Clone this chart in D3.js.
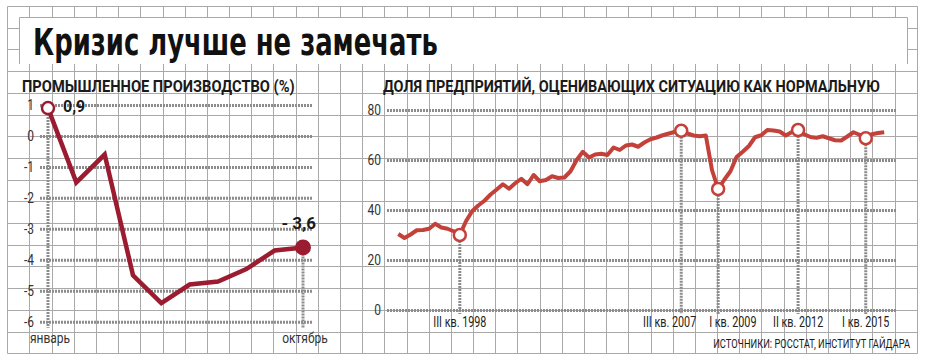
<!DOCTYPE html>
<meta charset="utf-8">
<head>
<style>
  body { margin: 0; background: #fff; }
  text { font-family: "Liberation Sans Narrow", "Roboto", "Liberation Sans", sans-serif; fill: #1a1a1a; }
  .axis .domain { display: none; }
  .axis line { stroke: #8c8c8c; stroke-width: 3; stroke-dasharray: 2,1; }
  .axis text { font-size: 15px; fill: #333; }
</style>
</head>
<body>
<script src="https://d3js.org/d3.v7.min.js"></script>
<script>
var width = 928, height = 362;

// left: industrial production, %
var months = ["январь", "февраль", "март", "апрель", "май", "июнь", "июль", "август", "сентябрь", "октябрь"];
var production = [0.9, -1.5, -0.6, -4.5, -5.4, -4.8, -4.7, -4.3, -3.7, -3.6];
var prodTicks = [1, 0, -1, -2, -3, -4, -5, -6];

// right: share of firms rating the situation as normal, quarterly I кв. 1996 .. IV кв. 2015
var romans = ["I", "II", "III", "IV"];
var quarters = [];
d3.range(1996, 2016).forEach(function(y) {
  romans.forEach(function(r) { quarters.push(r + " кв. " + y); });
});
var share = [30.4, 28.8, 30.2, 31.9, 32.0, 32.5, 34.5, 33.0, 32.5, 31.5,
             30.0, 35.5, 39.5, 41.8, 43.7, 46.2, 48.2, 50.3, 48.5, 50.7,
             52.5, 50.3, 54.0, 51.5, 52.0, 53.5, 52.8, 53.0, 55.5, 60.0,
             63.3, 61.0, 62.2, 62.5, 62.0, 65.0, 64.0, 65.8, 66.2, 65.3,
             67.0, 68.3, 69.0, 69.9, 70.6, 71.3, 71.7, 70.6, 69.8, 69.5,
             69.8, 56.0, 48.4, 52.1, 55.5, 61.2, 63.3, 65.6, 69.1, 69.9,
             72.0, 71.8, 71.4, 69.8, 71.2, 72.0, 70.3, 69.2, 68.9, 69.5,
             68.7, 67.9, 67.8, 69.4, 71.1, 70.1, 68.7, 70.3, 70.8, 71.1];
var shareTicks = [0, 20, 40, 60, 80];
var marked = ["III кв. 1998", "III кв. 2007", "I кв. 2009", "II кв. 2012", "I кв. 2015"];

// squeeze a text horizontally with a transform (narrow newspaper face)
function squeeze(sel, k) {
  sel.each(function() {
    var t = d3.select(this);
    var x = +t.attr("x") || 0, y = +t.attr("y") || 0;
    var f = typeof k === "function" ? k(this) : k;
    t.attr("x", 0).attr("y", 0)
     .attr("transform", "translate(" + x + "," + y + ") scale(" + f + ",1)");
  });
}
// squeeze to a given width
function fitTo(w) {
  return function(node) { return w / node.getComputedTextLength(); };
}

var svg = d3.select("body").append("svg")
    .attr("width", width)
    .attr("height", height);

// background paper grid
var gx0 = 7.3, gx1 = 916.7, gy0 = 6, gy1 = 353.3;
var cols = d3.range(42).map(function(i) { return Math.round(gx0 + i * (gx1 - gx0) / 41) + 0.5; });
var rows = d3.range(17).map(function(i) { return Math.round(gy0 + i * (gy1 - gy0) / 16) + 0.5; });
var grid = svg.append("g").attr("stroke", "#a9a9a9").attr("stroke-width", 1);
grid.selectAll("line.v").data(cols).enter().append("line")
    .attr("x1", d => d).attr("x2", d => d)
    .attr("y1", rows[0]).attr("y2", rows[rows.length - 1]);
grid.selectAll("line.h").data(rows).enter().append("line")
    .attr("y1", d => d).attr("y2", d => d)
    .attr("x1", cols[0]).attr("x2", cols[cols.length - 1]);

// title box
svg.append("rect").attr("x", 19).attr("y", 17).attr("width", 888).attr("height", 47).attr("fill", "#fff");
svg.append("path").attr("d", "M19.5,64V17.5H907.5V64").attr("fill", "none").attr("stroke", "#a9a9a9");

svg.append("text")
    .attr("x", 33).attr("y", 55)
    .style("font-family", "'DejaVu Sans', sans-serif")
    .style("font-weight", "bold")
    .style("font-size", "37px")
    .style("fill", "#111")
    .text("Кризис лучше не замечать")
    .call(squeeze, fitTo(405));

// sub titles
svg.append("text")
    .attr("x", 22).attr("y", 92)
    .style("font-size", "16px").style("font-weight", "bold")
    .text("ПРОМЫШЛЕННОЕ ПРОИЗВОДСТВО (%)")
    .call(squeeze, fitTo(273));
svg.append("text")
    .attr("x", 383).attr("y", 92)
    .style("font-size", "16px").style("font-weight", "bold")
    .text("ДОЛЯ ПРЕДПРИЯТИЙ, ОЦЕНИВАЮЩИХ СИТУАЦИЮ КАК НОРМАЛЬНУЮ")
    .call(squeeze, fitTo(497));

// ---------- left chart ----------
var xL = d3.scalePoint().domain(months).range([48, 303]);
var yL = d3.scaleLinear().domain([1, -6]).range([105, 321.7]);

svg.append("g")
    .attr("class", "axis")
    .attr("transform", "translate(40,0)")
    .call(d3.axisLeft(yL).tickValues(prodTicks).tickSize(-273).tickPadding(6)
      .tickFormat(d => d < 0 ? "-" + Math.abs(d) : d))
  .selectAll("text").call(squeeze, 0.8);

var first = months[0], last = months[months.length - 1];
svg.append("g").attr("stroke", "#8c8c8c").attr("stroke-width", 3).attr("stroke-dasharray", "2,1")
  .selectAll("line")
  .data([[first, production[0]], [last, production[production.length - 1]]])
  .enter().append("line")
    .attr("x1", d => xL(d[0])).attr("x2", d => xL(d[0]))
    .attr("y1", d => yL(d[1])).attr("y2", yL(-6) + 6);

svg.append("path")
    .datum(production)
    .attr("fill", "none")
    .attr("stroke", "#9b1b30")
    .attr("stroke-width", 4.5)
    .attr("d", d3.line().x((d, i) => xL(months[i])).y(d => yL(d)));

svg.append("circle")
    .attr("cx", xL(first)).attr("cy", yL(production[0])).attr("r", 6)
    .attr("fill", "#fff").attr("stroke", "#9b1b30").attr("stroke-width", 2.5);
svg.append("circle")
    .attr("cx", xL(last)).attr("cy", yL(production[production.length - 1])).attr("r", 8)
    .attr("fill", "#9b1b30");

svg.append("text")
    .attr("x", xL(first) + 15).attr("y", yL(production[0]) + 4)
    .style("font-size", "16px").style("font-weight", "bold")
    .text(String(production[0]).replace(".", ","));
svg.append("text")
    .attr("x", xL(last) + 13).attr("y", yL(production[production.length - 1]) - 18)
    .attr("text-anchor", "end")
    .style("font-size", "17px").style("font-weight", "bold")
    .text("- " + String(Math.abs(production[production.length - 1])).replace(".", ","));

svg.append("g").selectAll("text")
    .data([first, last])
    .enter().append("text")
    .attr("x", d => xL(d) + 2).attr("y", 343)
    .attr("text-anchor", "middle")
    .style("font-size", "15px").style("fill", "#333")
    .text(d => d)
    .call(squeeze, 0.8);

// ---------- right chart ----------
var xR = d3.scalePoint().domain(quarters).range([398.3, 884.2]);
var yR = d3.scaleLinear().domain([0, 80]).range([310, 110]);

svg.append("g")
    .attr("class", "axis")
    .attr("transform", "translate(387,0)")
    .call(d3.axisLeft(yR).tickValues(shareTicks).tickSize(-510).tickPadding(6))
  .selectAll("text").call(squeeze, 0.8);

var markedPts = marked.map(function(q) { return [q, share[quarters.indexOf(q)]]; });

svg.append("g").attr("stroke", "#8c8c8c").attr("stroke-width", 3).attr("stroke-dasharray", "2,1")
  .selectAll("line")
  .data(markedPts)
  .enter().append("line")
    .attr("x1", d => xR(d[0])).attr("x2", d => xR(d[0]))
    .attr("y1", d => yR(d[1])).attr("y2", yR(0) + 4);

svg.append("path")
    .datum(share)
    .attr("fill", "none")
    .attr("stroke", "#c4413a")
    .attr("stroke-width", 4)
    .attr("stroke-linejoin", "round")
    .attr("d", d3.line().x((d, i) => xR(quarters[i])).y(d => yR(d)));

svg.append("g").selectAll("circle")
    .data(markedPts)
    .enter().append("circle")
    .attr("cx", d => xR(d[0])).attr("cy", d => yR(d[1])).attr("r", 6)
    .attr("fill", "#fff").attr("stroke", "#c4413a").attr("stroke-width", 2.5);

// quarter labels; the two crowded ones are pushed apart
var labelShift = {"III кв. 2007": ["end", 15], "I кв. 2009": ["start", -9]};
svg.append("g").selectAll("text")
    .data(marked)
    .enter().append("text")
    .attr("x", d => xR(d) + (labelShift[d] ? labelShift[d][1] : 0))
    .attr("y", 327)
    .attr("text-anchor", d => labelShift[d] ? labelShift[d][0] : "middle")
    .style("font-size", "15px").style("fill", "#222")
    .text(d => d)
    .call(squeeze, 0.72);

svg.append("text")
    .attr("x", 910).attr("y", 348)
    .attr("text-anchor", "end")
    .style("font-size", "12px")
    .text("ИСТОЧНИКИ: РОССТАТ, ИНСТИТУТ ГАЙДАРА")
    .call(squeeze, fitTo(197));
</script>
</body>
